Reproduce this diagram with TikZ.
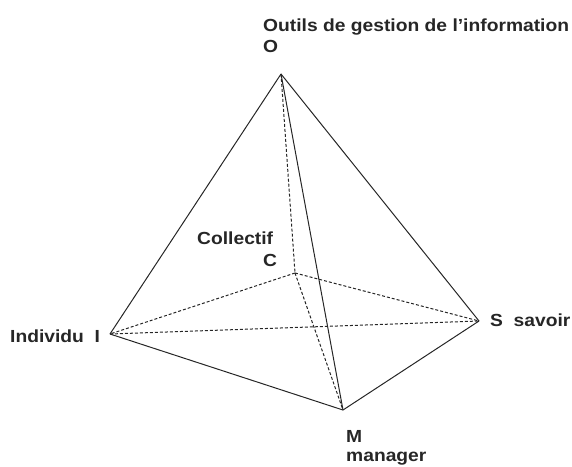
\documentclass[tikz,border=0pt]{standalone}
\usepackage{fontspec}
\setmainfont[FakeStretch=1.1]{Liberation Sans}
\begin{document}
\begin{tikzpicture}[x=1pt,y=-1pt,
  edge/.style={line width=1pt,black!85},
  hidden/.style={line width=1pt,black!85,dash pattern=on 3pt off 2pt},
  lbl/.style={inner sep=0pt,font=\fontsize{17.5}{20}\selectfont\bfseries,text=black!85}]
\useasboundingbox (0,0) rectangle (572,466);
\coordinate (O) at (281,74);
\coordinate (C) at (295,273);
\coordinate (I) at (110,334);
\coordinate (S) at (479,321);
\coordinate (M) at (343,410);
% solid edges
\draw[edge] (O) -- (I);
\draw[edge] (O) -- (S);
\draw[edge] (O) -- (M);
\draw[edge] (I) -- (M);
\draw[edge] (M) -- (S);
% hidden edges
\draw[hidden] (O) -- (C);
\draw[hidden] (C) -- (I);
\draw[hidden] (C) -- (S);
\draw[hidden] (C) -- (M);
\draw[hidden] (I) -- (S);
% labels
\node[lbl,anchor=base west] (tO) at (263,31) {Outils de gestion de l'information};
\node[lbl,anchor=base west] (tO2) at (263,52) {O};
\node[lbl,anchor=base west] (tC1) at (197,244) {Collectif};
\node[lbl,anchor=base west] (tC2) at (263,266) {C};
\node[lbl,anchor=base west] (tI) at (10,342) {Individu\ \ I};
\node[lbl,anchor=base west] (tS) at (490,326) {S\ \ savoir};
\node[lbl,anchor=base west] (tM) at (346,442) {M};
\node[lbl,anchor=base west] (tM2) at (346,461) {manager};
\end{tikzpicture}
\end{document}
